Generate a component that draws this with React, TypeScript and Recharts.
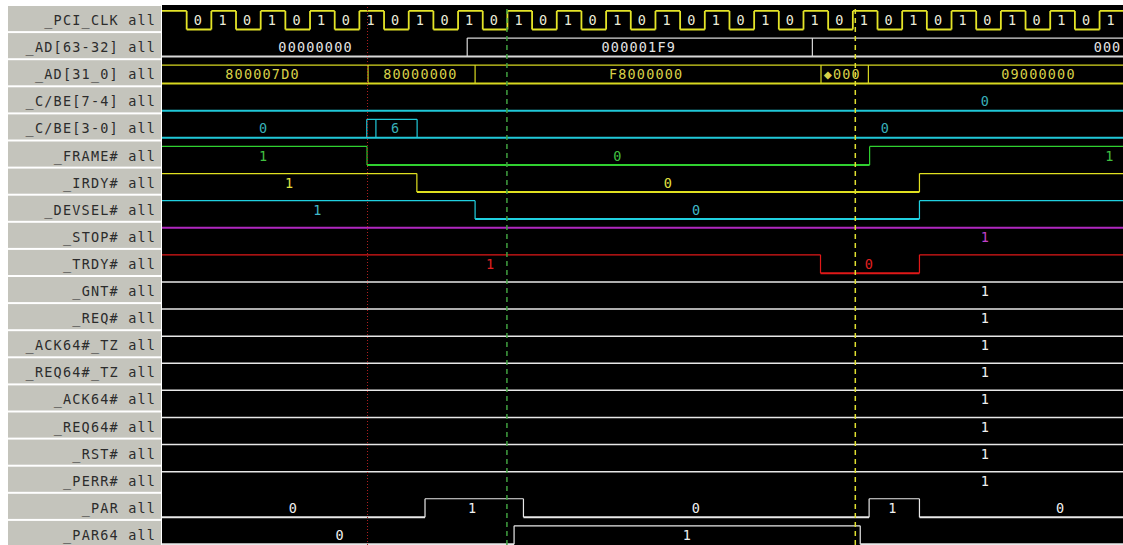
import React from 'react';
import { ComposedChart, Line, Scatter, XAxis, YAxis, ReferenceLine, ReferenceArea } from 'recharts';

// row names shown in the grey panel
const NAMES = [
    '_PCI_CLK all', '_AD[63-32] all', '_AD[31_0] all', '_C/BE[7-4] all', '_C/BE[3-0] all',
    '_FRAME# all', '_IRDY# all', '_DEVSEL# all', '_STOP# all', '_TRDY# all',
    '_GNT# all', '_REQ# all', '_ACK64#_TZ all', '_REQ64#_TZ all', '_ACK64# all',
    '_REQ64# all', '_RST# all', '_PERR# all', '_PAR all', '_PAR64 all',
];

// time is in clock half-periods; t = segment start, v = value, lt = where the value is printed
const CLK_T = [0, 1, 2, 3, 4, 5, 6, 7, 8, 9, 10, 11, 12, 13, 14, 15, 16, 17, 18, 19, 20, 21, 22, 23, 24, 25, 26, 27, 28, 29, 30, 31, 32, 33, 34, 35, 36, 37, 38];
const CLK_V = [1, 0, 1, 0, 1, 0, 1, 0, 1, 0, 1, 0, 1, 0, 1, 0, 1, 0, 1, 0, 1, 0, 1, 0, 1, 0, 1, 0, 1, 0, 1, 0, 1, 0, 1, 0, 1, 0, 1];
const CLK_LT = [null, 1.45, 2.45, 3.45, 4.45, 5.45, 6.45, 7.45, 8.45, 9.45, 10.45, 11.45, 12.45, 13.45, 14.45, 15.45, 16.45, 17.45, 18.45, 19.45, 20.45, 21.45, 22.45, 23.45, 24.45, 25.45, 26.45, 27.45, 28.45, 29.45, 30.45, 31.45, 32.45, 33.45, 34.45, 35.45, 36.45, 37.45, 38.45];

const AD63_T = [0, 12.37, 26.36];
const AD63_V = ['00000000', '000001F9', '000'];
const AD63_BOX = [false, true, true];
const AD63_LT = [6.2, 19.3, 38.3];

const AD31_T = [0, 8.35, 12.69, 26.71, 28.63];
const AD31_V = ['800007D0', '80000000', 'F8000000', '\u25C6000', '09000000'];
const AD31_BOX = [true, true, true, true, true];
const AD31_LT = [4.05, 10.45, 19.6, 27.55, 35.5];

const CBE74_T = [0];
const CBE74_V = ['0'];
const CBE74_BOX = [false];
const CBE74_LT = [33.35];

const CBE30_T = [0, 8.3, 8.67, 10.34];
const CBE30_V = ['0', '', '6', '0'];
const CBE30_BOX = [false, true, true, false];
const CBE30_LT = [4.1, null, 9.45, 29.3];

const FRAME_T = [0, 8.31, 28.68];
const FRAME_V = [1, 0, 1];
const FRAME_LT = [4.1, 18.45, 38.4];

const IRDY_T = [0, 10.33, 30.7];
const IRDY_V = [1, 0, 1];
const IRDY_LT = [5.15, 20.5, null];

const DEVSEL_T = [0, 12.69, 30.7];
const DEVSEL_V = [1, 0, 1];
const DEVSEL_LT = [6.3, 21.65, null];

const TRDY_T = [0, 26.69, 30.7];
const TRDY_V = [1, 0, 1];
const TRDY_LT = [13.3, 28.65, null];

const IDLE_T = [0];
const IDLE_V = [1];
const IDLE_LT = [33.35];

const PAR_T = [0, 10.66, 14.65, 28.66, 30.7];
const PAR_V = [0, 1, 0, 1, 0];
const PAR_LT = [5.3, 12.57, 21.64, 29.6, 36.4];

const PAR64_T = [0, 14.27, 28.3];
const PAR64_V = [0, 1, 0];
const PAR64_LT = [7.2, 21.27, null];

// cursors
const CURSOR_RED = 8.33;
const CURSOR_GREEN = 13.98;
const CURSOR_YELLOW = 28.1;

const W = 1123;
const H = 545;
const TOP = 5;
const PANEL_LEFT = 8;
const AXIS_W = 154;
const ROW_PX = 27.1;
const T_MAX = 38.95;
const T_END = 41;
const Y_MAX = (H - TOP) / ROW_PX;
const HI = 0.22;
const LO = 0.9;
const TXT = 0.74;
const FONT = '"DejaVu Sans Mono", monospace';
const CHAR_W = 9.35;

type Pt = { t: number; y: number | null };
type Bit = { row: number; t: number[]; v: number[]; lt: (number | null)[]; color: string; text: string; width?: number };
type Bus = { row: number; t: number[]; v: string[]; box: boolean[]; lt: (number | null)[]; color: string; text: string };

const BUSES: Bus[] = [
    { row: 1, t: AD63_T, v: AD63_V, box: AD63_BOX, lt: AD63_LT, color: '#d8d8d8', text: '#e4e4e4' },
    { row: 2, t: AD31_T, v: AD31_V, box: AD31_BOX, lt: AD31_LT, color: '#d8d820', text: '#d8d048' },
    { row: 3, t: CBE74_T, v: CBE74_V, box: CBE74_BOX, lt: CBE74_LT, color: '#20c8d8', text: '#38b0b8' },
    { row: 4, t: CBE30_T, v: CBE30_V, box: CBE30_BOX, lt: CBE30_LT, color: '#20c8d8', text: '#38b0b8' },
];

const WHITE = '#e8e8e8';
const BITS: Bit[] = [
    { row: 0, t: CLK_T, v: CLK_V, lt: CLK_LT, color: '#e4e428', text: '#ececd8', width: 1.8 },
    { row: 5, t: FRAME_T, v: FRAME_V, lt: FRAME_LT, color: '#30d030', text: '#40c040' },
    { row: 6, t: IRDY_T, v: IRDY_V, lt: IRDY_LT, color: '#e0e020', text: '#e0e040' },
    { row: 7, t: DEVSEL_T, v: DEVSEL_V, lt: DEVSEL_LT, color: '#20d0e0', text: '#40b8c8' },
    { row: 8, t: IDLE_T, v: IDLE_V, lt: IDLE_LT, color: '#b028c0', text: '#c040c8', width: 2 },
    { row: 9, t: TRDY_T, v: TRDY_V, lt: TRDY_LT, color: '#e01818', text: '#e02020' },
    ...[10, 11, 12, 13, 14, 15, 16, 17].map(row => ({ row, t: IDLE_T, v: IDLE_V, lt: IDLE_LT, color: WHITE, text: '#f0f0f0', width: 1.5 })),
    { row: 18, t: PAR_T, v: PAR_V, lt: PAR_LT, color: WHITE, text: '#f0f0f0' },
    { row: 19, t: PAR64_T, v: PAR64_V, lt: PAR64_LT, color: WHITE, text: '#f0f0f0' },
];

const segEnd = (t: number[], k: number) => (k + 1 < t.length ? t[k + 1] : T_END);

function bitPaths(s: Bit) {
    const hi: Pt[] = [];
    const lo: Pt[] = [];
    s.t.forEach((t0, k) => {
        const t1 = segEnd(s.t, k);
        const level = s.row + (s.v[k] ? HI : LO);
        (s.v[k] ? hi : lo).push({ t: t0, y: level }, { t: t1, y: level }, { t: t1, y: null });
        if (k > 0) hi.push({ t: t0, y: s.row + HI }, { t: t0, y: s.row + LO }, { t: t0, y: null });
    });
    return { hi, lo };
}

function busPaths(s: Bus) {
    const lo: Pt[] = [{ t: s.t[0], y: s.row + LO }, { t: T_END, y: s.row + LO }];
    const hi: Pt[] = [];
    s.t.forEach((t0, k) => {
        const t1 = segEnd(s.t, k);
        if (s.box[k]) hi.push({ t: t0, y: s.row + HI }, { t: t1, y: s.row + HI }, { t: t1, y: null });
        if (k > 0 && (s.box[k] || s.box[k - 1])) hi.push({ t: t0, y: s.row + HI }, { t: t0, y: s.row + LO }, { t: t0, y: null });
    });
    return { hi, lo };
}

const paths = [
    ...BITS.map(s => ({ ...bitPaths(s), color: s.color, hiWidth: s.width ?? 1.2, key: `b${s.row}` })),
    ...BUSES.map(s => ({ ...busPaths(s), color: s.color, hiWidth: 1.2, key: `s${s.row}` })),
];

const labels = [...BITS, ...BUSES].flatMap(s =>
    s.lt.map((lt, k) => (lt == null ? null : { t: lt, y: s.row + TXT, text: String(s.v[k]), color: s.text }))
        .filter(Boolean)
) as { t: number; y: number; text: string; color: string }[];

// monospace text stretched to the analyser's wider character cell
const Mono = ({ x, y, anchor, color, children }: { x: number; y: number; anchor: string; color: string; children: string }) => (
    <text x={x} y={y} textAnchor={anchor} fontFamily={FONT} fontSize={13.5} fill={color}
        textLength={children.length > 1 ? children.length * CHAR_W - 1.5 : undefined} lengthAdjust="spacing">
        {children}
    </text>
);

const NameTick = (props: any) => {
    const { y, payload } = props;
    const i = Math.round(payload.value - 0.5);
    const top = y - ROW_PX / 2;
    return (
        <g>
            <rect x={PANEL_LEFT} y={top + 1} width={AXIS_W - 1} height={ROW_PX - 2} fill="#c4c4bc" />
            <Mono x={PANEL_LEFT + AXIS_W - 7} y={top + 20} anchor="end" color="#2c2c2c">{NAMES[i]}</Mono>
        </g>
    );
};

const ValueText = (props: any) => {
    const { cx, cy, payload } = props;
    return <Mono x={cx} y={cy} anchor="middle" color={payload.color}>{payload.text}</Mono>;
};

export default function App() {
    return (
        <div>
            <style>{'body{margin:0;overflow:hidden;background:#fff}'}</style>
            <ComposedChart width={W} height={H} margin={{ top: TOP, right: 0, bottom: 0, left: PANEL_LEFT }}>
                <XAxis type="number" dataKey="t" domain={[0, T_MAX]} allowDataOverflow hide />
                <YAxis
                    type="number"
                    dataKey="y"
                    domain={[0, Y_MAX]}
                    reversed
                    allowDataOverflow
                    ticks={NAMES.map((_, i) => i + 0.5)}
                    interval={0}
                    axisLine={false}
                    tickLine={false}
                    width={AXIS_W}
                    tick={<NameTick />}
                />
                <ReferenceArea x1={0} x2={T_MAX} y1={0} y2={Y_MAX} fill="#000" fillOpacity={1} stroke="none" />
                {paths.map(p => (
                    <Line key={p.key + 'h'} data={p.hi} dataKey="y" type="linear" stroke={p.color} strokeWidth={p.hiWidth}
                        dot={false} activeDot={false} isAnimationActive={false} />
                ))}
                {paths.map(p => (
                    <Line key={p.key + 'l'} data={p.lo} dataKey="y" type="linear" stroke={p.color} strokeWidth={2}
                        dot={false} activeDot={false} isAnimationActive={false} />
                ))}
                <Scatter data={labels} dataKey="y" shape={<ValueText />} isAnimationActive={false} />
                <ReferenceLine x={CURSOR_RED} stroke="#b02020" strokeDasharray="1 2" />
                <ReferenceLine x={CURSOR_GREEN} stroke="#40a040" strokeWidth={1.5} strokeDasharray="5 4" />
                <ReferenceLine x={CURSOR_YELLOW} stroke="#e0e030" strokeWidth={1.5} strokeDasharray="5 4" />
            </ComposedChart>
        </div>
    );
}
